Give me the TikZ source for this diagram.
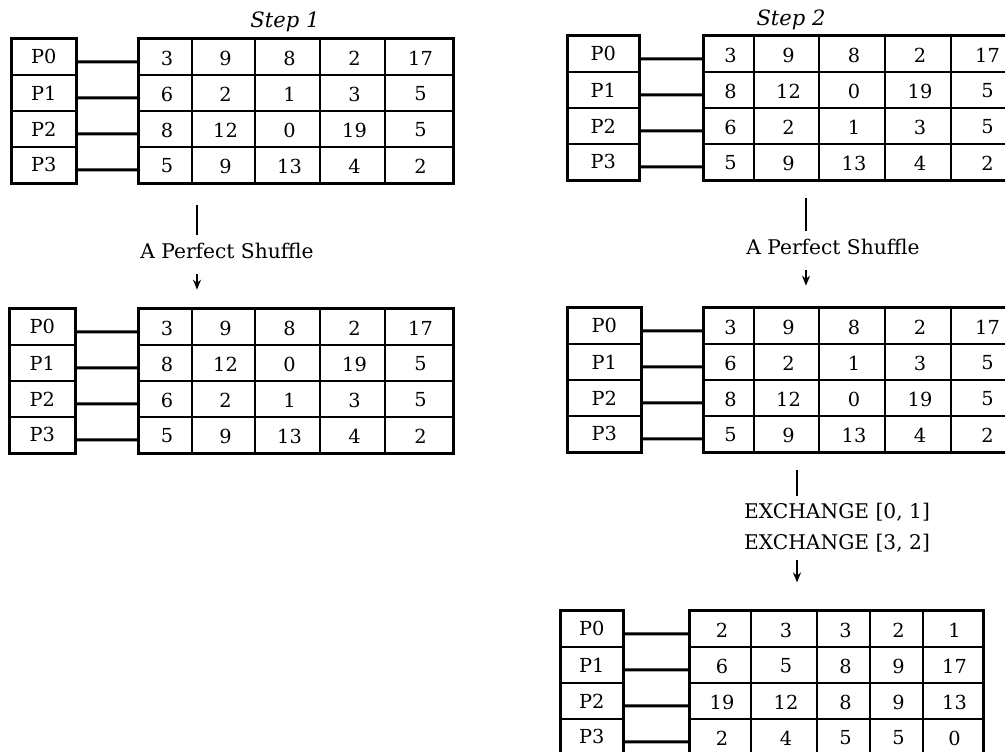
\documentclass[tikz,border=0pt]{standalone}
\usepackage{fontspec}
\setmainfont{DejaVu Serif}
\usetikzlibrary{positioning,calc,arrows.meta}

\newcommand{\CellFont}{\fontsize{11}{13}\selectfont}
\newcommand{\NoteFont}{\fontsize{11.5}{17.6}\selectfont}
\newcommand{\RowH}{36}

% #1 name of the block, #2/#3 left and right of the P column, #4 top,
% #5 column edges of the table, #6--#9 values held by P0..P3
\newcommand{\ProcBlock}[9]{%
  \pgfmathsetmacro{\Xs}{{#5}[0]}
  \pgfmathsetmacro{\Xe}{{#5}[5]}
  \foreach \RowVals [count=\Rw from 0] in {{#6},{#7},{#8},{#9}} {
    \pgfmathsetmacro{\Ytop}{#4+\Rw*\RowH}
    \node[LabelBox, minimum width={(#3-#2)*0.2mm}, anchor=north west]
      (#1P\Rw) at (#2,\Ytop) {P\Rw};
    \node[RowBox, minimum width={(\Xe-\Xs)*0.2mm}, anchor=north west]
      (#1R\Rw) at (\Xs,\Ytop) {};
    \foreach \Val [count=\Cl from 0] in \RowVals {
      \pgfmathsetmacro{\Xa}{{#5}[\Cl]}
      \pgfmathsetmacro{\Xb}{{#5}[\Cl+1]}
      \node[CellNum] (#1R\Rw-\Cl) at ({(\Xa+\Xb)/2+2},{\Ytop+\RowH/2+2}) {\Val};
    }
    \foreach \Cl in {1,...,4} {
      \pgfmathsetmacro{\Xa}{{#5}[\Cl]}
      \draw[ColLine] ({\Xa},\Ytop) -- ({\Xa},{\Ytop+\RowH});
    }
    \draw[Link] ([yshift=-1mm]#1P\Rw.east) -- ([yshift=-1mm]#1R\Rw.west);
  }
  \draw[Frame] (#1P0.north west) rectangle (#1P3.south east);
  \draw[Frame] (#1R0.north west) rectangle (#1R3.south east);
}

\begin{document}
\begin{tikzpicture}[
x=0.2mm, y=-0.2mm,
LabelBox/.style={draw, line width=1pt, inner sep=0pt, minimum height={\RowH*0.2mm}, font=\CellFont},
RowBox/.style={draw, line width=1.1pt, inner sep=0pt, minimum height={\RowH*0.2mm}},
CellNum/.style={inner sep=0pt, font=\CellFont},
ColLine/.style={line width=0.6pt},
Link/.style={line width=1.7pt},
Frame/.style={line width=1.5pt},
StepText/.style={font=\fontsize{12}{14}\selectfont\itshape},
Note/.style={font=\NoteFont, align=center, inner xsep=0pt, inner ysep=1.5mm},
Tick/.style={line width=1.1pt},
Down/.style={line width=0.8pt, -{Stealth[length=2mm, width=1.6mm]}}
]

\useasboundingbox (0,0) rectangle (1005,751);
\clip (0,0) rectangle (1005,751);

% Step 1
\node[StepText] (step1) at (285,22) {Step 1};
\ProcBlock{a}{11}{75}{38}{138,192,255,320,385,452}
  {3,9,8,2,17}{6,2,1,3,5}{8,12,0,19,5}{5,9,13,4,2}

\node[Note] (shufA) at (227,251) {A Perfect Shuffle};
\coordinate (tickA) at (197,205);
\draw[Tick] (tickA) -- (tickA |- shufA.north);
\draw[Down, shorten <=1.5mm] (shufA.south -| tickA) -- ++(0,23);

\ProcBlock{c}{9}{74}{308}{138,192,255,320,385,452}
  {3,9,8,2,17}{8,12,0,19,5}{6,2,1,3,5}{5,9,13,4,2}

% Step 2
\node[StepText] (step2) at (791,20) {Step 2};
\ProcBlock{b}{567}{638}{35}{703,754,819,885,951,1020}
  {3,9,8,2,17}{8,12,0,19,5}{6,2,1,3,5}{5,9,13,4,2}

\node[Note] (shufB) at (833,247) {A Perfect Shuffle};
\coordinate (tickB) at (806,198);
\draw[Tick] (tickB) -- (tickB |- shufB.north);
\draw[Down, shorten <=1.5mm] (shufB.south -| tickB) -- ++(0,23);

\ProcBlock{d}{567}{640}{307}{703,754,819,885,951,1020}
  {3,9,8,2,17}{6,2,1,3,5}{8,12,0,19,5}{5,9,13,4,2}

\node[Note] (exch) at (837,528) {EXCHANGE [0, 1]\\EXCHANGE [3, 2]};
\coordinate (tickC) at (797,470);
\draw[Tick] (tickC) -- (tickC |- exch.north);
\draw[Down] (exch.south -| tickC) -- ++(0,22);

\ProcBlock{e}{560}{622}{610}{689,751,817,870,923,982}
  {2,3,3,2,1}{6,5,8,9,17}{19,12,8,9,13}{2,4,5,5,0}

\end{tikzpicture}
\end{document}
